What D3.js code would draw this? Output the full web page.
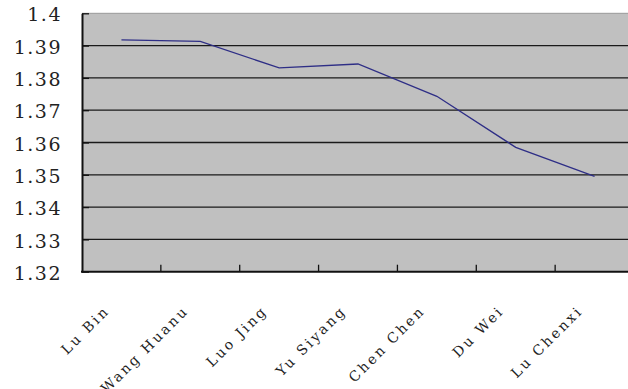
<!DOCTYPE html>
<html><head><meta charset="utf-8">
<script src="https://cdn.jsdelivr.net/npm/d3@7"></script>
<style>body{margin:0;background:#fff;} svg{display:block;}</style>
</head><body>
<svg id="c" width="628" height="389"></svg>
<script>
const categories = ["Lu Bin","Wang Huanu","Luo Jing","Yu Siyang","Chen Chen","Du Wei","Lu Chenxi"];
const values = [1.3918,1.3913,1.3831,1.3843,1.3743,1.3585,1.3495];
const yTicks = [1.32,1.33,1.34,1.35,1.36,1.37,1.38,1.39,1.4];

const svg = d3.select("#c");
const L = 82, R = 634, T = 13.3, B = 271.7;
const x = d3.scaleBand().domain(categories).range([L, R]);
const y = d3.scaleLinear().domain([1.32, 1.4]).range([B, T]);
const FONT = "DejaVu Serif";

svg.append("rect").attr("x", L).attr("y", T).attr("width", R - L).attr("height", B - T).attr("fill", "#c0c0c0");
svg.append("line").attr("x1", L).attr("x2", R).attr("y1", T).attr("y2", T).attr("stroke", "#999").attr("stroke-width", 1);

// gridlines
svg.append("g").selectAll("line").data(yTicks.filter(d => d > 1.32 && d < 1.4)).join("line")
  .attr("x1", L).attr("x2", R).attr("y1", d => y(d)).attr("y2", d => y(d))
  .attr("stroke", "#1a1a1a").attr("stroke-width", 1.3);

// y axis
const yAxis = svg.append("g").attr("transform", `translate(${L},0)`)
  .call(d3.axisLeft(y).tickValues(yTicks).tickSize(-7).tickSizeOuter(0).tickPadding(20).tickFormat(d => d3.format("")(d)));
yAxis.attr("font-family", FONT);
yAxis.select(".domain").attr("stroke", "#111").attr("stroke-width", 2);
yAxis.selectAll(".tick line").attr("stroke", "#111").attr("stroke-width", 1.3);
yAxis.selectAll(".tick text").attr("font-size", 19)
  .attr("fill", "#222").attr("letter-spacing", "1.5px").attr("dy", "0.4em");

// x axis
const bounds = categories.slice(1).map(c => x(c));
svg.append("g").selectAll("line").data(bounds).join("line")
  .attr("x1", d => d).attr("x2", d => d).attr("y1", B).attr("y2", B - 7)
  .attr("stroke", "#111").attr("stroke-width", 1.3);
svg.append("line").attr("x1", L - 1).attr("x2", R).attr("y1", B).attr("y2", B).attr("stroke", "#111").attr("stroke-width", 2);

svg.append("g").attr("font-family", FONT).selectAll("text").data(categories).join("text")
  .attr("transform", d => `translate(${x(d) + x.bandwidth() / 2 - 11},${B + 40}) rotate(-45)`)
  .attr("text-anchor", "end").attr("font-size", 14)
  .attr("letter-spacing", "2.5px").attr("fill", "#222").text(d => d);

// line
const line = d3.line().x((d, i) => x(categories[i]) + x.bandwidth() / 2).y(d => y(d));
svg.append("path").datum(values).attr("d", line).attr("fill", "none")
  .attr("stroke", "#2e2e86").attr("stroke-width", 1.3);
</script>
</body></html>
